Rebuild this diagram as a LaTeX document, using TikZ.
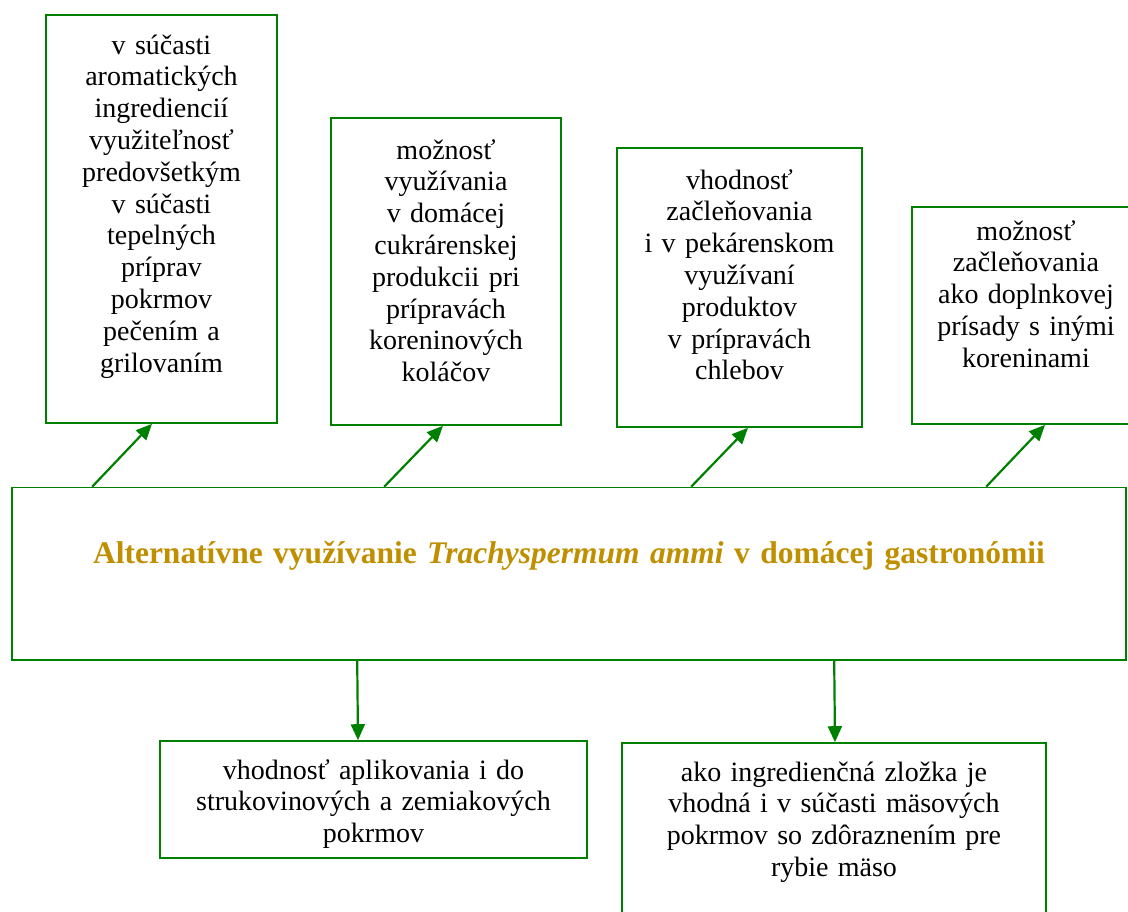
\documentclass[tikz,border=0pt]{standalone}
\usepackage{fontspec}
\setmainfont{Liberation Serif}
\usetikzlibrary{arrows.meta}

\definecolor{boxgreen}{RGB}{0,128,0}
\definecolor{titlegold}{RGB}{191,143,0}

\begin{document}
\begin{tikzpicture}[
    x=1pt, y=-1pt,
    boxstyle/.style   = {draw=boxgreen,
                        line width=1.6pt,
                        inner sep=0pt,
                        anchor=base,
                        align=center,
                        font=\fontsize{28}{31.8}\selectfont},
    titlestyle/.style = {boxstyle,
                        text=titlegold,
                        font=\fontsize{31.5}{36}\selectfont\bfseries},
    arr/.style        = {draw=boxgreen,
                        line width=2.2pt,
                        -{Triangle[length=16pt,width=14pt]}}
]
\useasboundingbox (0,0) rectangle (1128,911);

% upper boxes
\node (u1) [boxstyle, text width=231pt, text height=39pt, text depth=369pt]
    at (161.5,54) {v súčasti\\ aromatických\\ ingrediencií\\ využiteľnosť\\
    predovšetkým\\ v súčasti\\ tepelných\\ príprav\\ pokrmov\\ pečením a\\ grilovaním};
\node (u2) [boxstyle, text width=230pt, text height=41pt, text depth=266pt]
    at (446,159) {možnosť\\ využívania\\ v domácej\\ cukrárenskej\\ produkcii pri\\
    prípravách\\ koreninových\\ koláčov};
\node (u3) [boxstyle, text width=245pt, text height=41pt, text depth=238pt]
    at (739.5,189) {vhodnosť\\ začleňovania\\ i v pekárenskom\\ využívaní\\ produktov\\
    v prípravách\\ chlebov};
\node (u4) [boxstyle, text width=228pt, text height=33pt, text depth=184pt]
    at (1026,240) {možnosť\\ začleňovania\\ ako doplnkovej\\ prísady s inými\\ koreninami};

% main box
\node (main) [titlestyle, text width=1114pt, text height=75.5pt, text depth=97pt]
    at (569,563) {Alternatívne využívanie \textit{Trachyspermum ammi} v domácej gastronómii};

% lower boxes
\node (d1) [boxstyle, text width=427pt, text height=38pt, text depth=79pt]
    at (373.5,779) {vhodnosť aplikovania i do\\ strukovinových a zemiakových\\ pokrmov};
\node (d2) [boxstyle, text width=424pt, text height=38pt, text depth=159pt]
    at (834,781) {ako ingredienčná zložka je\\ vhodná i v súčasti mäsových\\
    pokrmov so zdôraznením pre\\ rybie mäso};

\draw[arr] ([xshift=81pt]main.north west) -- ([xshift=-9.5pt]u1.south);
\draw[arr] ([xshift=373pt]main.north west) -- ([xshift=-3pt]u2.south);
\draw[arr] ([xshift=680pt]main.north west) -- ([xshift=8.5pt]u3.south);
\draw[arr] ([xshift=975pt]main.north west) -- ([xshift=19pt]u4.south);
\draw[arr] ([xshift=346pt]main.south west) -- ([xshift=-15.5pt]d1.north);
\draw[arr] ([xshift=823pt]main.south west) -- ([xshift=1pt]d2.north);

\end{tikzpicture}
\end{document}
